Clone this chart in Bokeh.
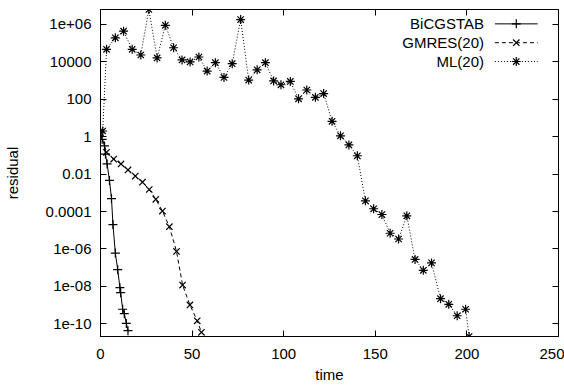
from bokeh.plotting import figure
from bokeh.models import (Range1d, FixedTicker, LinearAxis, LogAxis, CustomJSTickFormatter,
                          LinearScale)
from bokeh.core.properties import value
from bokeh.embed import file_html
from bokeh.resources import INLINE

# ---------------- data ----------------
series_names = ["BiCGSTAB", "GMRES(20)", "ML(20)"]

bicg_t = [0.0, 0.9, 2.2, 2.7, 3.6, 4.9, 6.0, 6.8, 8.1, 9.4, 10.6, 11.0, 12.1, 13.0, 14.1, 15.0]
bicg_r = [1.66, 0.72, 0.32, 0.117, 0.035, 4.6e-3, 4.9e-4, 2.0e-5, 6.0e-7, 7.8e-8,
          8.5e-9, 4.6e-9, 6.0e-10, 3.5e-10, 1.05e-10, 4.3e-11]

gmres_t = [0.0, 3.25, 7.2, 11.2, 15.0, 19.0, 22.9, 26.6, 30.2, 33.8, 37.6, 41.5, 44.8, 48.8, 52.8, 55.1]
gmres_r = [1.66, 0.145, 0.063, 0.035, 0.0166, 7.8e-3, 3.7e-3, 1.5e-3, 4.5e-4, 1.05e-4,
           1.55e-5, 7.4e-7, 1.17e-8, 1.02e-9, 1.45e-10, 3.5e-11]

ml_t = [1.2, 3.3, 8.1, 12.6, 17.3, 22.0, 26.4, 30.9, 35.4, 39.9, 44.5, 48.9, 53.7, 58.2,
        62.7, 67.4, 71.9, 76.5, 80.9, 85.5, 90.0, 94.5, 98.5, 103.6, 108.1, 112.6, 117.3,
        121.8, 126.4, 131.0, 135.6, 140.2, 144.6, 149.1, 153.6, 158.1, 162.7, 167.2, 171.7,
        176.2, 180.7, 185.6, 190.1, 194.7, 199.3, 201.2]
ml_r = [2.0, 4.6e4, 1.9e5, 4.3e5, 4.6e4, 2.3e4, 6.2e6, 1.6e4, 8.9e5, 5.6e4, 1.26e4, 9.8e3,
        1.8e4, 3.2e3, 8.9e3, 1.45e3, 7.9e3, 1.8e6, 1.05e3, 3.7e3, 8.9e3, 9.5e2, 5.9e2, 8.9e2,
        1.05e2, 3.1e2, 1.26e2, 2.0e2, 6.6, 1.1, 0.36, 0.095, 3.7e-4, 1.4e-4, 6.9e-5, 6.9e-6,
        3.4e-6, 5.9e-5, 2.75e-7, 7.2e-8, 1.8e-7, 2.2e-9, 1.1e-9, 2.7e-10, 6.0e-10, 2.1e-11]

x_ticks = [0, 50, 100, 150, 200, 250]
y_ticks = [1e-10, 1e-08, 1e-06, 1e-04, 1e-02, 1.0, 100.0, 10000.0, 1e+06]
y_tick_labels = ["1e-10", "1e-08", "1e-06", "0.0001", "0.01", "1", "100", "10000", "1e+06"]

# ---------------- layout / style ----------------
W, H = 564, 385
FL, FR, FT, FB = 97, 6, 9, 46          # frame borders in px
FONT = "Liberation Sans"
FS = "15px"
MSIZE = 9

all_r = bicg_r + gmres_r + ml_r
p = figure(width=W, height=H, x_range=Range1d(0, 250),
           y_range=Range1d(min(all_r), max(all_r)), y_axis_type="log",
           output_backend="svg", toolbar_location=None,
           min_border_left=FL, min_border_right=FR, min_border_top=FT, min_border_bottom=FB)
p.grid.visible = False
p.outline_line_color = "black"
p.outline_line_width = 1
p.background_fill_color = "white"
p.border_fill_color = "white"

blank = CustomJSTickFormatter(code="return ''")

def style_axis(ax, ticks, labels=True):
    ax.ticker = FixedTicker(ticks=ticks)
    ax.axis_line_color = "black"
    ax.major_tick_line_color = "black"
    ax.major_tick_in = 6
    ax.major_tick_out = 0
    ax.minor_tick_line_color = None
    ax.major_label_text_font = FONT
    ax.major_label_text_font_size = FS
    ax.major_label_text_color = "black"
    ax.axis_label_text_font = FONT
    ax.axis_label_text_font_size = FS
    ax.axis_label_text_font_style = "normal"
    ax.axis_label_text_color = "black"
    if not labels:
        ax.formatter = blank
        ax.major_label_text_font_size = "0px"
        ax.major_label_standoff = 0

style_axis(p.xaxis[0], x_ticks)
p.xaxis[0].axis_label = "time"
p.xaxis[0].major_label_standoff = 12
p.xaxis[0].axis_label_standoff = 4

style_axis(p.yaxis[0], y_ticks)
p.yaxis[0].axis_label = "residual"
p.yaxis[0].major_label_standoff = 9
p.yaxis[0].axis_label_standoff = 22
p.yaxis[0].major_label_overrides = {t: l for t, l in zip(y_ticks, y_tick_labels)}

top = LinearAxis()
style_axis(top, x_ticks, labels=False)
p.add_layout(top, "above")
right = LogAxis()
style_axis(right, y_ticks, labels=False)
p.add_layout(right, "right")

# ---------------- series ----------------
styles = [
    dict(t=bicg_t, r=bicg_r, dash="solid", marker="cross"),
    dict(t=gmres_t, r=gmres_r, dash="4 3", marker="x"),
    dict(t=ml_t, r=ml_r, dash="1 2", marker="asterisk"),
]
for s in styles:
    p.line(s["t"], s["r"], line_color="black", line_width=1, line_dash=s["dash"])
    p.scatter(s["t"], s["r"], marker=s["marker"], size=MSIZE, line_color="black", line_width=1.2)

# ---------------- gnuplot-style key (label, then sample) ----------------
p.extra_x_ranges = {"lx": Range1d(FL, W - FR)}
p.extra_y_ranges = {"ly": Range1d(H - FB, FT)}
p.extra_x_scales = {"lx": LinearScale()}
p.extra_y_scales = {"ly": LinearScale()}
key_rows = [23.5, 42.5, 61.5]
key_text_right, key_l, key_r = 483, 494, 537
for name, s, yy in zip(series_names, styles, key_rows):
    p.text(x=[key_text_right], y=[yy], text=[name], x_range_name="lx", y_range_name="ly",
           text_font=value(FONT), text_font_size=value(FS), text_align="right",
           text_baseline="middle", text_color="black")
    p.line([key_l, key_r], [yy, yy], x_range_name="lx", y_range_name="ly",
           line_color="black", line_width=1, line_dash=s["dash"])
    p.scatter([(key_l + key_r) / 2], [yy], x_range_name="lx", y_range_name="ly",
              marker=s["marker"], size=MSIZE, line_color="black", line_width=1.2)

open("out.html", "w").write(file_html(p, INLINE))
